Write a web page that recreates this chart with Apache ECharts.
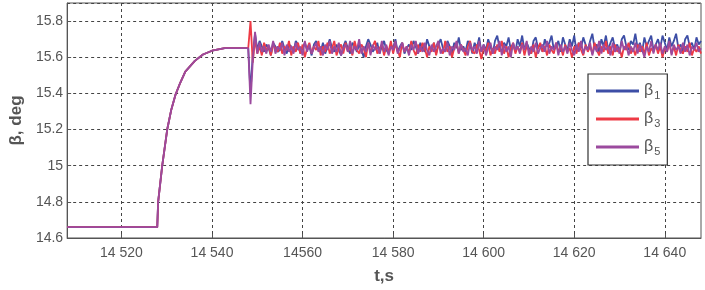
<!DOCTYPE html>
<html>
<head>
<meta charset="utf-8">
<script src="https://cdn.jsdelivr.net/npm/echarts@6/dist/echarts.min.js"></script>
<style>html,body{margin:0;padding:0;background:#fff;}#c{width:705px;height:290px;}</style>
</head>
<body>
<div id="c"></div>
<script>
// ---- data ----
const seriesNames = ['β1', 'β3', 'β5'];
const xTicks = [14520, 14540, 14560, 14580, 14600, 14620, 14640];
const xTickLabels = ['14 520', '14 540', '14560', '14 580', '14 600', '14 620', '14 640'];
const yTicks = [14.6, 14.8, 15, 15.2, 15.4, 15.6, 15.8];
const yTickLabels = ['14.6', '14.8', '15', '15.2', '15.4', '15.6', '15.8'];

// common start-up (all three angles coincide)
const riseTimes  = [14508, 14527.9, 14528.1, 14529, 14530.1, 14531, 14531.9, 14533, 14534.1, 14536.2, 14538, 14540, 14542.8];
const riseValues = [14.66, 14.66, 14.80, 15.0, 15.2, 15.31, 15.39, 15.46, 15.52, 15.58, 15.615, 15.636, 15.65];

// after the disturbance: samples every 0.5 s starting at 14548.0
const noiseStart = 14548.0;
const noiseStep = 0.5;
const beta1 = [
15.65,15.40,15.62,15.73,15.64,15.69,15.66,15.63,15.67,15.65,15.61,15.68,15.66,15.63,15.64,15.69,15.65,15.62,15.67,15.66,
15.63,15.69,15.67,15.62,15.65,15.68,15.64,15.66,15.61,15.67,15.69,15.64,15.63,15.68,15.62,15.66,15.70,15.65,15.63,15.67,
15.64,15.61,15.66,15.69,15.65,15.62,15.68,15.66,15.63,15.67,15.64,15.60,15.66,15.70,15.67,15.63,15.65,15.68,15.62,15.66,
15.69,15.64,15.62,15.67,15.65,15.70,15.63,15.66,15.68,15.62,15.65,15.67,15.64,15.69,15.66,15.62,15.68,15.65,15.63,15.70,
15.66,15.64,15.68,15.62,15.67,15.70,15.65,15.63,15.69,15.66,15.62,15.68,15.65,15.71,15.64,15.66,15.63,15.69,15.67,15.62,
15.68,15.65,15.71,15.63,15.67,15.64,15.70,15.66,15.62,15.69,15.72,15.65,15.63,15.68,15.66,15.71,15.64,15.67,15.63,15.70,
15.66,15.72,15.64,15.68,15.65,15.62,15.69,15.71,15.65,15.67,15.63,15.70,15.66,15.68,15.72,15.64,15.66,15.69,15.63,15.71,
15.67,15.64,15.70,15.66,15.72,15.63,15.68,15.65,15.71,15.67,15.64,15.69,15.73,15.65,15.67,15.63,15.70,15.66,15.72,15.64,
15.68,15.71,15.65,15.67,15.63,15.70,15.72,15.66,15.64,15.69,15.67,15.73,15.65,15.68,15.63,15.71,15.66,15.69,15.72,15.64,
15.67,15.70,15.65,15.72,15.68,15.64,15.71,15.66,15.69,15.73,15.65,15.67,15.63,15.70,15.72,15.66,15.68,15.64,15.71,15.67,
15.69];
const beta3 = [
15.65,15.80,15.57,15.70,15.62,15.66,15.61,15.68,15.64,15.66,15.61,15.67,15.65,15.63,15.68,15.62,15.66,15.64,15.69,15.61,
15.66,15.63,15.68,15.62,15.67,15.60,15.65,15.68,15.62,15.66,15.64,15.69,15.61,15.66,15.63,15.68,15.62,15.65,15.69,15.61,
15.65,15.67,15.62,15.68,15.63,15.66,15.61,15.69,15.64,15.62,15.67,15.65,15.60,15.68,15.63,15.66,15.69,15.62,15.65,15.67,
15.61,15.66,15.63,15.69,15.62,15.67,15.64,15.60,15.68,15.63,15.66,15.62,15.69,15.64,15.61,15.67,15.63,15.68,15.65,15.60,
15.66,15.63,15.68,15.61,15.67,15.64,15.62,15.69,15.63,15.66,15.60,15.65,15.68,15.62,15.67,15.64,15.61,15.66,15.69,15.63,
15.62,15.67,15.64,15.59,15.66,15.63,15.68,15.61,15.65,15.62,15.67,15.63,15.69,15.62,15.66,15.60,15.65,15.68,15.62,15.66,
15.63,15.68,15.61,15.66,15.64,15.62,15.67,15.60,15.65,15.68,15.63,15.66,15.61,15.67,15.64,15.62,15.68,15.63,15.66,15.61,
15.67,15.63,15.65,15.60,15.66,15.62,15.68,15.64,15.61,15.67,15.63,15.66,15.62,15.68,15.64,15.61,15.66,15.63,15.69,15.62,
15.66,15.61,15.67,15.63,15.65,15.60,15.66,15.64,15.68,15.62,15.65,15.61,15.67,15.63,15.66,15.62,15.68,15.61,15.65,15.63,
15.67,15.62,15.66,15.60,15.65,15.63,15.68,15.62,15.66,15.61,15.67,15.64,15.62,15.66,15.63,15.68,15.61,15.65,15.63,15.66,
15.62];
const beta5 = [
15.65,15.34,15.58,15.74,15.62,15.68,15.63,15.66,15.62,15.67,15.63,15.69,15.62,15.66,15.64,15.68,15.61,15.67,15.63,15.66,
15.62,15.68,15.64,15.66,15.61,15.69,15.63,15.67,15.62,15.65,15.68,15.63,15.66,15.61,15.67,15.64,15.69,15.62,15.66,15.63,
15.68,15.61,15.65,15.67,15.63,15.69,15.62,15.66,15.64,15.70,15.62,15.66,15.63,15.68,15.61,15.67,15.64,15.66,15.62,15.69,
15.63,15.67,15.61,15.66,15.64,15.69,15.62,15.65,15.68,15.63,15.66,15.61,15.67,15.64,15.69,15.62,15.66,15.63,15.68,15.64,
15.61,15.67,15.63,15.66,15.69,15.62,15.65,15.63,15.68,15.61,15.66,15.64,15.69,15.62,15.67,15.63,15.65,15.61,15.68,15.64,
15.66,15.62,15.69,15.63,15.67,15.61,15.65,15.68,15.62,15.66,15.64,15.69,15.61,15.67,15.63,15.66,15.60,15.68,15.64,15.66,
15.62,15.67,15.64,15.69,15.61,15.66,15.63,15.68,15.62,15.65,15.67,15.63,15.69,15.62,15.66,15.64,15.68,15.61,15.67,15.63,
15.66,15.62,15.68,15.64,15.61,15.67,15.63,15.69,15.62,15.66,15.64,15.68,15.61,15.66,15.63,15.69,15.62,15.67,15.64,15.66,
15.61,15.68,15.63,15.66,15.62,15.69,15.64,15.67,15.61,15.66,15.63,15.68,15.62,15.67,15.64,15.60,15.66,15.63,15.69,15.62,
15.67,15.64,15.68,15.62,15.66,15.63,15.69,15.61,15.67,15.64,15.66,15.62,15.68,15.63,15.67,15.61,15.66,15.64,15.68,15.63,
15.65];

const colors = ['#3d4ea6', '#ee3a45', '#9b4a9e'];

// ---- build ----
function build(vals) {
  const pts = riseTimes.map((t, i) => [t, riseValues[i]]);
  vals.forEach((v, i) => pts.push([noiseStart + noiseStep * i, v]));
  return pts;
}
const allSeries = [beta1, beta3, beta5];

const chart = echarts.init(document.getElementById('c'), null, {renderer: 'canvas'});
const font = 'Liberation Sans, Arial, sans-serif';
const dash = {color: '#444', width: 1, type: [3, 3]};

chart.setOption({
  animation: false,
  backgroundColor: '#fff',
  grid: {left: 61, right: 4, top: 3, bottom: 46, show: true, borderColor: '#555', borderWidth: 1, containLabel: false},
  xAxis: {
    type: 'value', min: 14508, max: 14648,
    name: 't,s', nameLocation: 'middle', nameGap: 30,
    nameTextStyle: {fontFamily: font, fontSize: 17, fontWeight: 'bold', color: '#555'},
    axisLine: {show: true, lineStyle: {color: '#555', width: 1}},
    axisTick: {show: true, inside: true, length: 4, customValues: xTicks, lineStyle: {color: '#555'}},
    axisLabel: {customValues: xTicks, margin: 8, fontFamily: font, fontSize: 14, color: '#555',
      formatter: v => { const i = xTicks.indexOf(Math.round(v)); return i >= 0 ? xTickLabels[i] : ''; }},
    splitLine: {show: true, lineStyle: dash}
  },
  yAxis: {
    type: 'value', min: 14.6, max: 15.9, interval: 0.2,
    name: 'β, deg', nameLocation: 'middle', nameGap: 34, nameRotate: 90,
    nameTextStyle: {fontFamily: font, fontSize: 17, fontWeight: 'bold', color: '#555'},
    axisLine: {show: true, lineStyle: {color: '#555', width: 1}},
    axisTick: {show: true, inside: true, length: 4, lineStyle: {color: '#555'}},
    axisLabel: {margin: 4, fontFamily: font, fontSize: 14, color: '#555', showMaxLabel: false,
      formatter: v => { const i = yTicks.findIndex(t => Math.abs(t - v) < 1e-6); return i >= 0 ? yTickLabels[i] : ''; }},
    splitLine: {show: true, lineStyle: dash}
  },
  legend: {
    orient: 'vertical', left: 588, top: 74,
    padding: [7, 7, 8, 8], itemGap: 8,
    backgroundColor: '#fff', borderColor: '#333', borderWidth: 1.2,
    icon: 'rect', itemWidth: 43, itemHeight: 3,
    data: seriesNames,
    formatter: n => '{b|β}{s|' + n.slice(1) + '}',
    textStyle: {fontFamily: font, color: '#555', rich: {
      b: {fontSize: 16, fontFamily: font, color: '#555', lineHeight: 22},
      s: {fontSize: 11, fontFamily: font, color: '#555', padding: [9, 0, 0, 1], lineHeight: 22}
    }}
  },
  series: allSeries.map((vals, k) => ({
    name: seriesNames[k], type: 'line', data: build(vals), showSymbol: false,
    lineStyle: {width: 1.8, color: colors[k]}, itemStyle: {color: colors[k]}, z: 2 + k
  }))
});
</script>
</body>
</html>
